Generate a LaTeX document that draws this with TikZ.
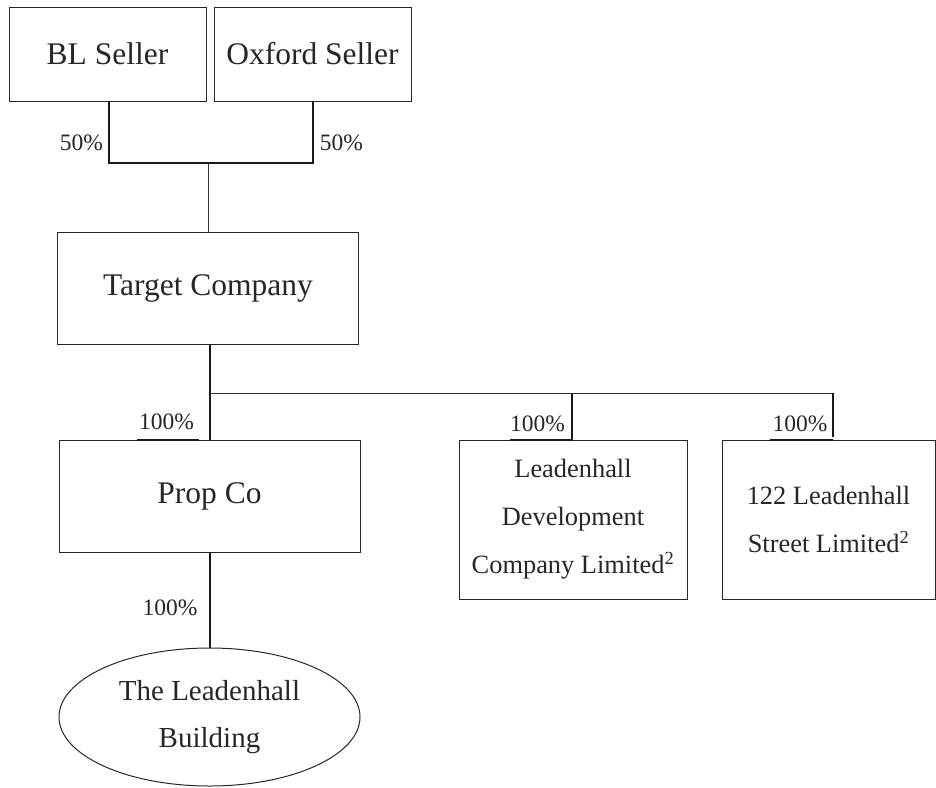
\documentclass[tikz,border=0pt]{standalone}
\usepackage{fontspec}
\setmainfont{Liberation Serif}
\usetikzlibrary{shapes.geometric}
\tikzset{
  box/.style={draw=black!85, line width=1pt, inner sep=0pt, align=center, text=black!85},
  bigtxt/.style={font=\fontsize{31.5}{38}\selectfont},
  midtxt/.style={font=\fontsize{26.4}{48}\selectfont},
  elltxt/.style={font=\fontsize{29}{47}\selectfont},
  pct/.style={inner sep=0pt, text=black!85, font=\fontsize{23.5}{28}\selectfont},
  thick link/.style={draw=black!90, line width=1.7pt},
  thin link/.style={draw=black!80, line width=1pt},
}
\begin{document}
\begin{tikzpicture}[x=1pt,y=-1pt]
\useasboundingbox (0,0) rectangle (936,787);
% boxes
\node[box,bigtxt,minimum width=197pt,minimum height=94pt] (bl) at (107.5,54) {BL Seller};
\node[box,bigtxt,minimum width=197pt,minimum height=94pt] (ox) at (312.5,54) {Oxford Seller};
\node[box,bigtxt,minimum width=301pt,minimum height=112pt] (tc) at (208,288) {Target Company};
\node[box,bigtxt,minimum width=301pt,minimum height=112pt] (pc) at (209.5,496) {Prop Co};
\node[box,midtxt,minimum width=228pt,minimum height=159pt] (ldc) at (573,519.5) {Leadenhall\\Development\\Company Limited\textsuperscript{2}};
\node[box,midtxt,minimum width=213pt,minimum height=159pt] (ls) at (828.5,519.5) {122 Leadenhall\\Street Limited\textsuperscript{2}};
\node[box,elltxt,ellipse,minimum width=301pt,minimum height=138pt] (tlb) at (209.5,717) {The Leadenhall\\Building};
% junction coordinates
\coordinate (jl) at (109,163);
\coordinate (jr) at (313,163);
\coordinate (jm) at (208,163);
\coordinate (ja) at (210,393);
\coordinate (jb) at (572,393);
\coordinate (jc) at (833,393);
% connectors
\draw[thick link] (bl.south -| jl) -- (jl) -- (jr) -- (ox.south -| jr);
\draw[thin link] (jm) -- (tc.north -| jm);
\draw[thick link] (tc.south -| ja) -- (pc.north -| ja);
\draw[thin link] (ja) -- (jc);
\draw[thick link] (jb) -- (ldc.north -| jb);
\draw[thick link] (jc) -- (833,437);
\draw[thick link] (pc.south -| ja) -- (tlb.north -| ja);
% label underlines
\draw[thick link] (137,440) -- (199,440);
\draw[thick link] (510,440) -- (572,440);
\draw[thick link] (770,440) -- (833,440);
% percentages
\node[pct] (p1) at (81.5,143) {50\%};
\node[pct] (p2) at (341.5,143) {50\%};
\node[pct] (p3) at (166.5,422) {100\%};
\node[pct] (p4) at (537.5,424) {100\%};
\node[pct] (p5) at (800,424) {100\%};
\node[pct] (p6) at (170,608) {100\%};
\end{tikzpicture}
\end{document}
